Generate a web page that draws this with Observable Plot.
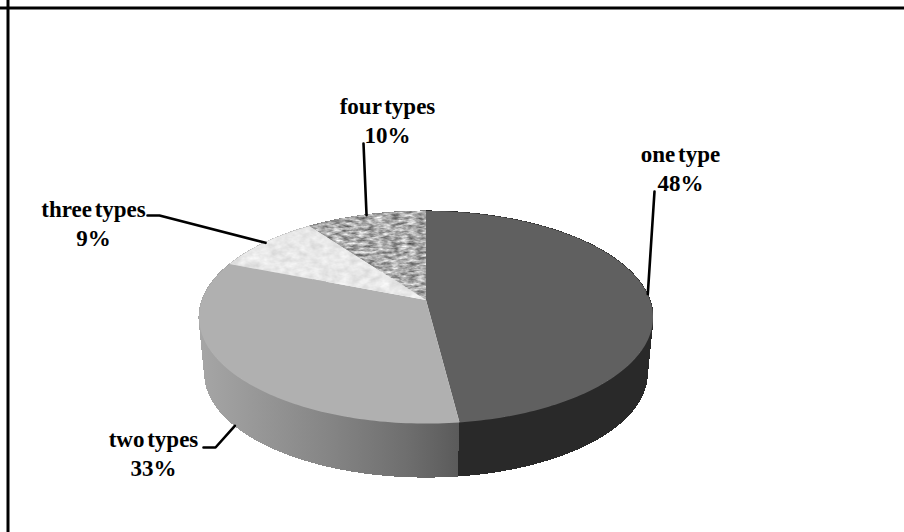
<!DOCTYPE html>
<html>
<head>
<meta charset="utf-8">
<style>
  html, body { margin: 0; padding: 0; background: #fff; }
  svg { display: block; }
</style>
<script src="https://cdn.jsdelivr.net/npm/d3@7"></script>
<script src="https://cdn.jsdelivr.net/npm/@observablehq/plot@0.6"></script>
</head>
<body>
<script>
// Share of respondents by number of types
const categories = ["one type", "two types", "three types", "four types"];
const shares = [48, 33, 9, 10];

// Slice styling, same order as categories
const topFills = ["#606060", "#b0b0b0", "#e9e9e9", "#a9a9a9"];
const sideFills = ["#292929", "url(#rimShade)", "#b9b9b9", "#808080"];
const topFilters = [undefined, undefined, "url(#paperGrain)", "url(#marbleGrain)"];

// Label placement and leader elbows, same order as categories
const labelX = [680, 153, 93, 387];
const labelY = [167, 452, 222, 119];
const leaderEnds = [
  [[654, 191]],
  [[203, 447], [215, 447]],
  [[147, 215], [159, 215]],
  [[363, 143]]
];

// Tilted disc seen in perspective: turn t (radians clockwise from the back)
// maps to page coordinates, the near side bulging towards the viewer.
const pivot = {x: 426, y: 300};
const radius = {x: 224, y: 103.5};
const foreshorten = 0.1625;
const lowerScale = 0.975;
const thickness = 56.6;

function rim(t, scale = 1, drop = 0) {
  const den = 1 + foreshorten * Math.cos(t);
  return {
    x: pivot.x + scale * radius.x * Math.sin(t) / den,
    y: pivot.y - scale * radius.y * Math.cos(t) / den + drop
  };
}

const total = d3.sum(shares);
let running = 0;
const slices = categories.map((name, i) => {
  const t0 = running / total * 2 * Math.PI;
  running += shares[i];
  const t1 = running / total * 2 * Math.PI;
  const steps = Math.max(8, Math.ceil((t1 - t0) / 0.02));
  const turns = d3.range(steps + 1).map((k) => t0 + (t1 - t0) * k / steps);
  // The wall is a strip of small quads so its silhouette is swept correctly
  const band = d3.range(steps).flatMap((k) =>
    [turns[k], turns[k + 1]].map((t) => {
      const a = rim(t);
      const b = rim(t, lowerScale, thickness);
      return {x1: a.x, y1: a.y, x2: b.x, y2: b.y, quad: k};
    })
  );
  const fan = turns.map((t) => {
    const a = rim(t);
    return {x1: a.x, y1: a.y, x2: pivot.x, y2: pivot.y};
  });
  return {name, share: shares[i], mid: (t0 + t1) / 2, band, fan, i};
});

const areaChannels = {x1: "x1", y1: "y1", x2: "x2", y2: "y2", curve: "linear"};

// Leaders start on the rim at each slice's middle; the two-types leader sits on the lower rim
const leaders = slices.map((s) => {
  const start = s.name === "two types" ? rim(s.mid, lowerScale, thickness) : rim(s.mid);
  return [...leaderEnds[s.i].map(([x, y]) => ({x, y})), start];
});

const chart = Plot.plot({
  width: 904,
  height: 532,
  margin: 0,
  style: {background: "#fff", overflow: "visible", wordSpacing: "-3px"},
  x: {domain: [0, 904], range: [0, 904], axis: null},
  y: {domain: [0, 532], range: [0, 532], axis: null},
  marks: [
    // Outer frame, top and left edges
    Plot.ruleY([7.5], {stroke: "#000", strokeWidth: 3}),
    Plot.ruleX([7.5], {stroke: "#000", strokeWidth: 3}),
    // Walls first, so the top face covers the far portions
    ...[...slices].reverse().map((s) =>
      Plot.area(s.band, {
        ...areaChannels,
        z: "quad",
        fill: sideFills[s.i],
        stroke: sideFills[s.i],
        strokeWidth: 1,
        shapeRendering: "crispEdges"
      })
    ),
    ...slices.map((s) =>
      Plot.area(s.fan, {...areaChannels, fill: topFills[s.i], imageFilter: topFilters[s.i]})
    ),
    ...leaders.map((points) =>
      Plot.line(points, {x: "x", y: "y", stroke: "#000", strokeWidth: 2.6, curve: "linear"})
    ),
    Plot.text(slices, {
      x: (s) => labelX[s.i],
      y: (s) => labelY[s.i],
      text: (s) => `${s.name}\n${s.share}%`,
      fontFamily: "Liberation Serif",
      fontWeight: "bold",
      fontSize: 23,
      lineHeight: 1.22,
      fill: "#000",
      textAnchor: "middle"
    })
  ]
});

// Gradient and grain used by the fills above
const defs = d3.select(chart).insert("svg:defs", ":first-child");
const shade = defs.append("linearGradient").attr("id", "rimShade")
  .attr("gradientUnits", "userSpaceOnUse")
  .attr("x1", 199).attr("x2", 460).attr("y1", 0).attr("y2", 0);
[[0, "#a6a6a6"], [0.5, "#858585"], [0.8, "#6e6e6e"], [1, "#5a5a5a"]].forEach(([offset, color]) =>
  shade.append("stop").attr("offset", offset).attr("stop-color", color));

function grain(id, frequency, gain, base) {
  const f = defs.append("filter").attr("id", id)
    .attr("x", 0).attr("y", 0).attr("width", 1).attr("height", 1)
    .attr("color-interpolation-filters", "sRGB");
  f.append("feTurbulence").attr("type", "fractalNoise")
    .attr("baseFrequency", frequency).attr("numOctaves", 3).attr("seed", 4).attr("result", "noise");
  f.append("feColorMatrix").attr("in", "noise").attr("type", "matrix")
    .attr("values", `${gain} 0 0 0 ${base} ${gain} 0 0 0 ${base} ${gain} 0 0 0 ${base} 0 0 0 0 1`)
    .attr("result", "tone");
  f.append("feComposite").attr("in", "tone").attr("in2", "SourceGraphic").attr("operator", "in");
}
grain("paperGrain", "0.1 0.16", 0.18, 0.82);
grain("marbleGrain", "0.12 0.35", 0.9, 0.22);

document.body.appendChild(chart);
</script>
</body>
</html>
